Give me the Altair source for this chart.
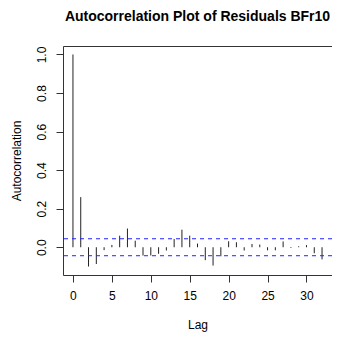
import altair as alt
import pandas as pd

lags = list(range(33))
acf_values = [1.0, 0.26, -0.10, -0.087, -0.015, 0.012, 0.060, 0.097, 0.034,
              -0.043, -0.043, -0.034, -0.017, 0.043, 0.091, 0.060, 0.019,
              -0.067, -0.095, -0.047, 0.031, 0.026, -0.017, 0.017, 0.014,
              -0.016, -0.016, 0.030, -0.004, 0.005, 0.011, -0.031, -0.063]
conf_bounds = [0.044, -0.044]

df = pd.DataFrame({"lag": lags, "acf": acf_values, "zero": [0.0] * len(lags)})
bounds = pd.DataFrame({"b": conf_bounds})

xscale = alt.Scale(domain=[-1.28, 33.28], nice=False, zero=False)
yscale = alt.Scale(domain=[-0.144, 1.044], nice=False, zero=False)

bars = alt.Chart(df).mark_rule(color="#222222", strokeWidth=1).encode(
    x=alt.X("lag:Q", scale=xscale,
            axis=alt.Axis(title="Lag", values=[0, 5, 10, 15, 20, 25, 30],
                          grid=False, domain=False, tickColor="#333333",
                          tickSize=7, labelPadding=8, labelFontSize=12,
                          labelColor="black", titleFontSize=12,
                          titleFontWeight="normal", titleColor="black",
                          titlePadding=18, labelFont="Liberation Sans",
                          titleFont="Liberation Sans", labelFlush=False)),
    y=alt.Y("acf:Q", scale=yscale,
            axis=alt.Axis(title="Autocorrelation",
                          values=[0, 0.2, 0.4, 0.6, 0.8, 1.0], format=".1f",
                          grid=False, domain=False, tickColor="#333333",
                          tickSize=7, labelAngle=270, labelAlign="center",
                          labelBaseline="bottom", labelPadding=8,
                          labelFontSize=12, labelColor="black",
                          titleFontSize=12, titleFontWeight="normal",
                          titleColor="black", titlePadding=12,
                          labelFont="Liberation Sans",
                          titleFont="Liberation Sans", labelFlush=False)),
    y2="zero:Q",
)

hlines = alt.Chart(bounds).mark_rule(color="#2222ff", strokeDash=[4, 4],
                                      strokeWidth=1).encode(
    y=alt.Y("b:Q", scale=yscale)
)

chart = (bars + hlines).properties(
    width=269, height=229,
    title=alt.Title("Autocorrelation Plot of Residuals BFr10",
                    font="Liberation Sans", fontSize=14, fontWeight="bold",
                    color="black", anchor="middle", offset=22),
    autosize=alt.AutoSizeParams(type="none"),
    padding={"left": 55, "top": 38, "right": 0, "bottom": 60},
).configure_view(stroke="#333333", strokeWidth=1)

chart.save("out.html", embed_options={"renderer": "svg", "actions": False})
